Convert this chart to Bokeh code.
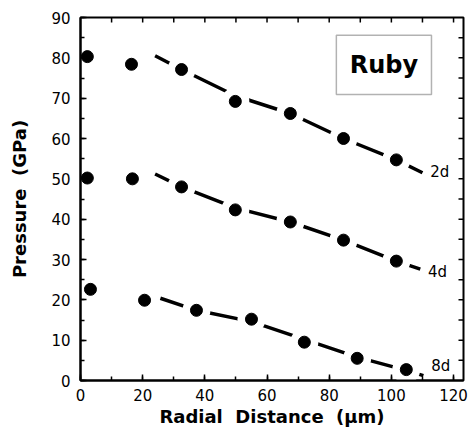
import math
from bokeh.plotting import figure
from bokeh.models import BoxAnnotation, Label, SingleIntervalTicker, Range1d
from bokeh.core.properties import value
from bokeh.embed import file_html
from bokeh.resources import INLINE

# ---- data ----
x_2d = [2.2, 16.4, 32.5, 49.8, 67.5, 84.6, 101.6]
y_2d = [80.3, 78.4, 77.1, 69.2, 66.2, 60.0, 54.7]
x_4d = [2.2, 16.7, 32.5, 49.8, 67.5, 84.6, 101.6]
y_4d = [50.2, 50.0, 48.0, 42.3, 39.3, 34.8, 29.6]
x_8d = [3.2, 20.6, 37.3, 55.0, 72.0, 89.0, 104.8]
y_8d = [22.6, 19.9, 17.4, 15.2, 9.5, 5.5, 2.7]

fit_x_2d = [24.0, 32.5, 49.8, 67.5, 84.6, 101.6, 110.0]
fit_y_2d = [80.5, 77.1, 70.6, 66.2, 60.0, 54.7, 51.5]
fit_x_4d = [24.0, 32.5, 49.8, 67.5, 84.6, 101.6, 109.3]
fit_y_4d = [51.2, 48.0, 42.8, 39.3, 34.8, 29.6, 27.6]
fit_x_8d = [25.7, 37.3, 55.0, 72.0, 89.0, 104.8, 110.3]
fit_y_8d = [20.4, 17.4, 14.6, 10.2, 5.8, 2.5, 1.2]

series_names = ["2d", "4d", "8d"]
label_y = [51.7, 26.9, 3.5]

x_max = 123.2
y_max = 90
top_ticks = list(range(10, 121, 10))
right_ticks = list(range(5, 90, 5))

FONT = "DejaVu Sans"

p = figure(width=468, height=431, output_backend="svg", toolbar_location=None,
           x_range=Range1d(0, x_max), y_range=Range1d(0, y_max),
           min_border_left=80, min_border_right=5, min_border_top=17, min_border_bottom=51)
p.background_fill_color = "white"
p.border_fill_color = "white"
p.grid.visible = False
p.outline_line_color = "black"
p.outline_line_width = 2

p.xaxis.axis_label = "Radial\u00a0 Distance\u00a0 (\u03bcm)"
p.yaxis.axis_label = "Pressure\u00a0 (GPa)"

p.xaxis.ticker = SingleIntervalTicker(interval=20, num_minor_ticks=2)
p.yaxis.ticker = SingleIntervalTicker(interval=10, num_minor_ticks=2)

for ax in [p.xaxis[0], p.yaxis[0]]:
    ax.axis_line_width = 2
    ax.major_tick_in = 6
    ax.major_tick_out = 0
    ax.minor_tick_in = 4
    ax.minor_tick_out = 0
    ax.major_tick_line_width = 1.5
    ax.minor_tick_line_width = 1.5
    ax.major_label_text_font = FONT
    ax.major_label_text_font_size = "15px"
    ax.major_label_text_color = "black"
    ax.axis_label_text_font = FONT
    ax.axis_label_text_font_style = "bold"
    ax.axis_label_text_font_size = "18px"
    ax.axis_label_text_color = "black"

p.xaxis.major_label_standoff = 8
p.xaxis.axis_label_standoff = 2
p.yaxis.major_label_standoff = 10
p.yaxis.axis_label_standoff = 18

# inward ticks on the top and right edges of the frame
p.ray(x=top_ticks, y=[y_max] * len(top_ticks), length=5, length_units="screen",
      angle=-math.pi / 2, line_color="black", line_width=1.5)
p.ray(x=[x_max] * len(right_ticks), y=right_ticks, length=5, length_units="screen",
      angle=math.pi, line_color="black", line_width=1.5)

fits = [(fit_x_2d, fit_y_2d), (fit_x_4d, fit_y_4d), (fit_x_8d, fit_y_8d)]
pts = [(x_2d, y_2d), (x_4d, y_4d), (x_8d, y_8d)]
for (fx, fy), (px, py), name, ly in zip(fits, pts, series_names, label_y):
    p.line(fx, fy, line_color="black", line_width=3.5)
    # white halo around the points that sit on the fitted curve -> dashed look
    p.scatter(px[2:], py[2:], size=28, fill_color="white", line_color=None)
    p.scatter(px, py, size=12, fill_color="black", line_color="black")
    p.text(x=[fx[-1] + 2.5], y=[ly], text=[name], text_font=value(FONT),
           text_font_size="15px", text_baseline="middle", text_align="left",
           text_color="black")

box = BoxAnnotation(left=82.3, right=112.9, bottom=70.9, top=85.6,
                    fill_alpha=0, line_color="black", line_width=1.5)
p.add_layout(box)
p.add_layout(Label(x=97.6, y=78.2, text="Ruby", text_font=FONT, text_font_style="bold",
                   text_font_size="24px", text_align="center", text_baseline="middle",
                   text_color="black"))

open("out.html", "w").write(file_html(p, INLINE))
